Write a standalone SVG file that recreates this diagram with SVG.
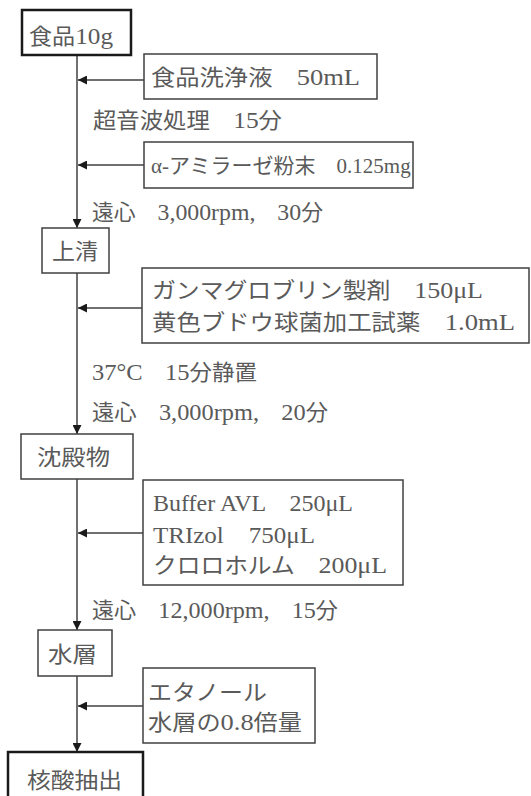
<svg xmlns="http://www.w3.org/2000/svg" width="531" height="796" viewBox="0 0 531 796">
<style>
text{font-family:"Liberation Serif","Noto Sans CJK JP",serif;font-size:22px;fill:#5a5a5a}
.l{font-size:24px}
.box{fill:#fff;stroke:#404040;stroke-width:1.5}
.thick{fill:#fff;stroke:#1a1a1a;stroke-width:2.5}
.ln{stroke:#404040;stroke-width:1.5;fill:none}
</style>
<defs>
<marker id="ah" viewBox="0 0 10 10" refX="10" refY="5" markerWidth="10" markerHeight="9" markerUnits="userSpaceOnUse" orient="auto">
<path d="M0,0 L10,5 L0,10 z" fill="#1a1a1a"/>
</marker>
</defs>
<rect width="531" height="796" fill="#fff"/>
<g id="connectors">
<line class="ln" x1="77" y1="55" x2="77" y2="228" marker-end="url(#ah)"/>
<line class="ln" x1="77" y1="273" x2="77" y2="434" marker-end="url(#ah)"/>
<line class="ln" x1="77" y1="479" x2="77" y2="630" marker-end="url(#ah)"/>
<line class="ln" x1="77" y1="676" x2="77" y2="752" marker-end="url(#ah)"/>
<line class="ln" x1="144" y1="80" x2="78" y2="80" marker-end="url(#ah)"/>
<line class="ln" x1="144" y1="165" x2="78" y2="165" marker-end="url(#ah)"/>
<line class="ln" x1="142" y1="308" x2="78" y2="308" marker-end="url(#ah)"/>
<line class="ln" x1="143" y1="533" x2="78" y2="533" marker-end="url(#ah)"/>
<line class="ln" x1="143" y1="706" x2="78" y2="706" marker-end="url(#ah)"/>
</g>
<g id="n1"><rect class="thick" x="22" y="10" width="109" height="45"/><text x="29" y="44" textLength="84" lengthAdjust="spacingAndGlyphs">食品<tspan class="l">10g</tspan></text></g>
<g id="n2"><rect class="box" x="144" y="54" width="233" height="45"/><text x="151" y="85" textLength="209" lengthAdjust="spacingAndGlyphs">食品洗浄液　<tspan class="l">50mL</tspan></text></g>
<g id="s1"><text x="93" y="128" textLength="189" lengthAdjust="spacingAndGlyphs">超音波処理　<tspan class="l">15</tspan>分</text></g>
<g id="n3"><rect class="box" x="144" y="142" width="269" height="46"/><text x="151" y="173" style="font-size:21px">α-アミラーゼ粉末　0.125mg</text></g>
<g id="s2"><text x="92" y="220" textLength="231" lengthAdjust="spacingAndGlyphs">遠心　<tspan class="l">3,000rpm,</tspan>　<tspan class="l">30</tspan>分</text></g>
<g id="n4"><rect class="box" x="42" y="228" width="67" height="45"/><text x="52" y="259" textLength="46" lengthAdjust="spacingAndGlyphs">上清</text></g>
<g id="n5"><rect class="box" x="142" y="268" width="387" height="75"/>
<text x="152" y="298" textLength="331" lengthAdjust="spacingAndGlyphs">ガンマグロブリン製剤　<tspan class="l">150μL</tspan></text>
<text x="152" y="330" textLength="363" lengthAdjust="spacingAndGlyphs">黄色ブドウ球菌加工試薬　<tspan class="l">1.0mL</tspan></text></g>
<g id="s3"><text x="92" y="380" textLength="165" lengthAdjust="spacingAndGlyphs"><tspan class="l">37°C</tspan>　<tspan class="l">15</tspan>分静置</text></g>
<g id="s4"><text x="92" y="420" textLength="236" lengthAdjust="spacingAndGlyphs">遠心　<tspan class="l">3,000rpm,</tspan>　<tspan class="l">20</tspan>分</text></g>
<g id="n6"><rect class="box" x="21" y="434" width="112" height="45"/><text x="37" y="465" textLength="73" lengthAdjust="spacingAndGlyphs">沈殿物</text></g>
<g id="n7"><rect class="box" x="143" y="480" width="260" height="105"/>
<text x="153" y="511" textLength="200" lengthAdjust="spacingAndGlyphs" class="l">Buffer AVL　250μL</text>
<text x="153" y="543" textLength="162" lengthAdjust="spacingAndGlyphs" class="l">TRIzol　750μL</text>
<text x="153" y="573" textLength="234" lengthAdjust="spacingAndGlyphs">クロロホルム　<tspan class="l">200μL</tspan></text></g>
<g id="s5"><text x="92" y="618" textLength="246" lengthAdjust="spacingAndGlyphs">遠心　<tspan class="l">12,000rpm,</tspan>　<tspan class="l">15</tspan>分</text></g>
<g id="n8"><rect class="box" x="38" y="630" width="74" height="46"/><text x="48" y="662" textLength="49" lengthAdjust="spacingAndGlyphs">水層</text></g>
<g id="n9"><rect class="box" x="143" y="668" width="172" height="75"/>
<text x="148" y="700" textLength="119" lengthAdjust="spacingAndGlyphs">エタノール</text>
<text x="148" y="730" textLength="154" lengthAdjust="spacingAndGlyphs">水層の<tspan class="l">0.8</tspan>倍量</text></g>
<g id="n10"><rect class="thick" x="8" y="752" width="135" height="50"/><text x="27" y="788" textLength="95" lengthAdjust="spacingAndGlyphs">核酸抽出</text></g>
</svg>
